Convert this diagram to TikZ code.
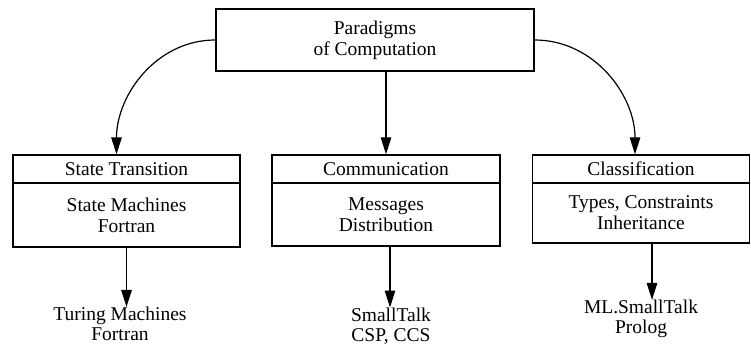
\documentclass[tikz,border=0pt]{standalone}
\usepackage{fontspec}
\setmainfont{Liberation Serif}
\usetikzlibrary{arrows.meta}
\begin{document}
\begin{tikzpicture}[x=1pt,y=-1pt,
  box/.style={draw, line width=1.3pt, rectangle, inner sep=0pt, align=center, font=\fontsize{19.5}{21}\selectfont},
  lbl/.style={align=center, inner sep=0pt, font=\fontsize{19.5}{20}\selectfont},
  arr/.style={line width=1.2pt, -{Triangle[length=17pt,width=10.5pt]}}]
\useasboundingbox (0,0) rectangle (751,347);
% top
\node[box, minimum width=318pt, minimum height=62pt] (top) at (375,40) {Paradigms\\of Computation};
% left
\node[box, minimum width=227pt, minimum height=28pt] (lh) at (126.5,169) {State Transition};
\node[box, minimum width=227pt, minimum height=64pt] (lb) at (126.5,215) {State Machines\\Fortran};
\node[lbl] (lt) at (120,324) {Turing Machines\\Fortran};
% middle
\node[box, minimum width=228pt, minimum height=28pt] (mh) at (386,169) {Communication};
\node[box, minimum width=228pt, minimum height=63pt] (mb) at (386,214.5) {Messages\\Distribution};
\node[lbl] (mt) at (391,326) {SmallTalk\\CSP, CCS};
% right
\node[box, minimum width=217pt, minimum height=28pt] (rh) at (641,169) {Classification};
\node[box, minimum width=217pt, minimum height=60pt] (rb) at (641,213) {Types, Constraints\\Inheritance};
\node[lbl] (rt) at (641,319) {ML.SmallTalk\\Prolog};
% connectors
\draw[arr] (top.west) to[out=180,in=90] ([xshift=-10pt]lh.north);
\draw[arr] (top.east) to[out=0,in=90] ([xshift=-6pt]rh.north);
\draw[arr] (mh.north |- top.south) -- (mh.north);
\draw[arr] (lb.south) -- (lb.south |- lt.north);
\draw[arr] ([xshift=4pt]mb.south) -- ([xshift=4pt]mb.south |- mt.north);
\draw[arr] ([xshift=11pt]rb.south) -- ([xshift=11pt]rb.south |- rt.north);
\end{tikzpicture}
\end{document}
